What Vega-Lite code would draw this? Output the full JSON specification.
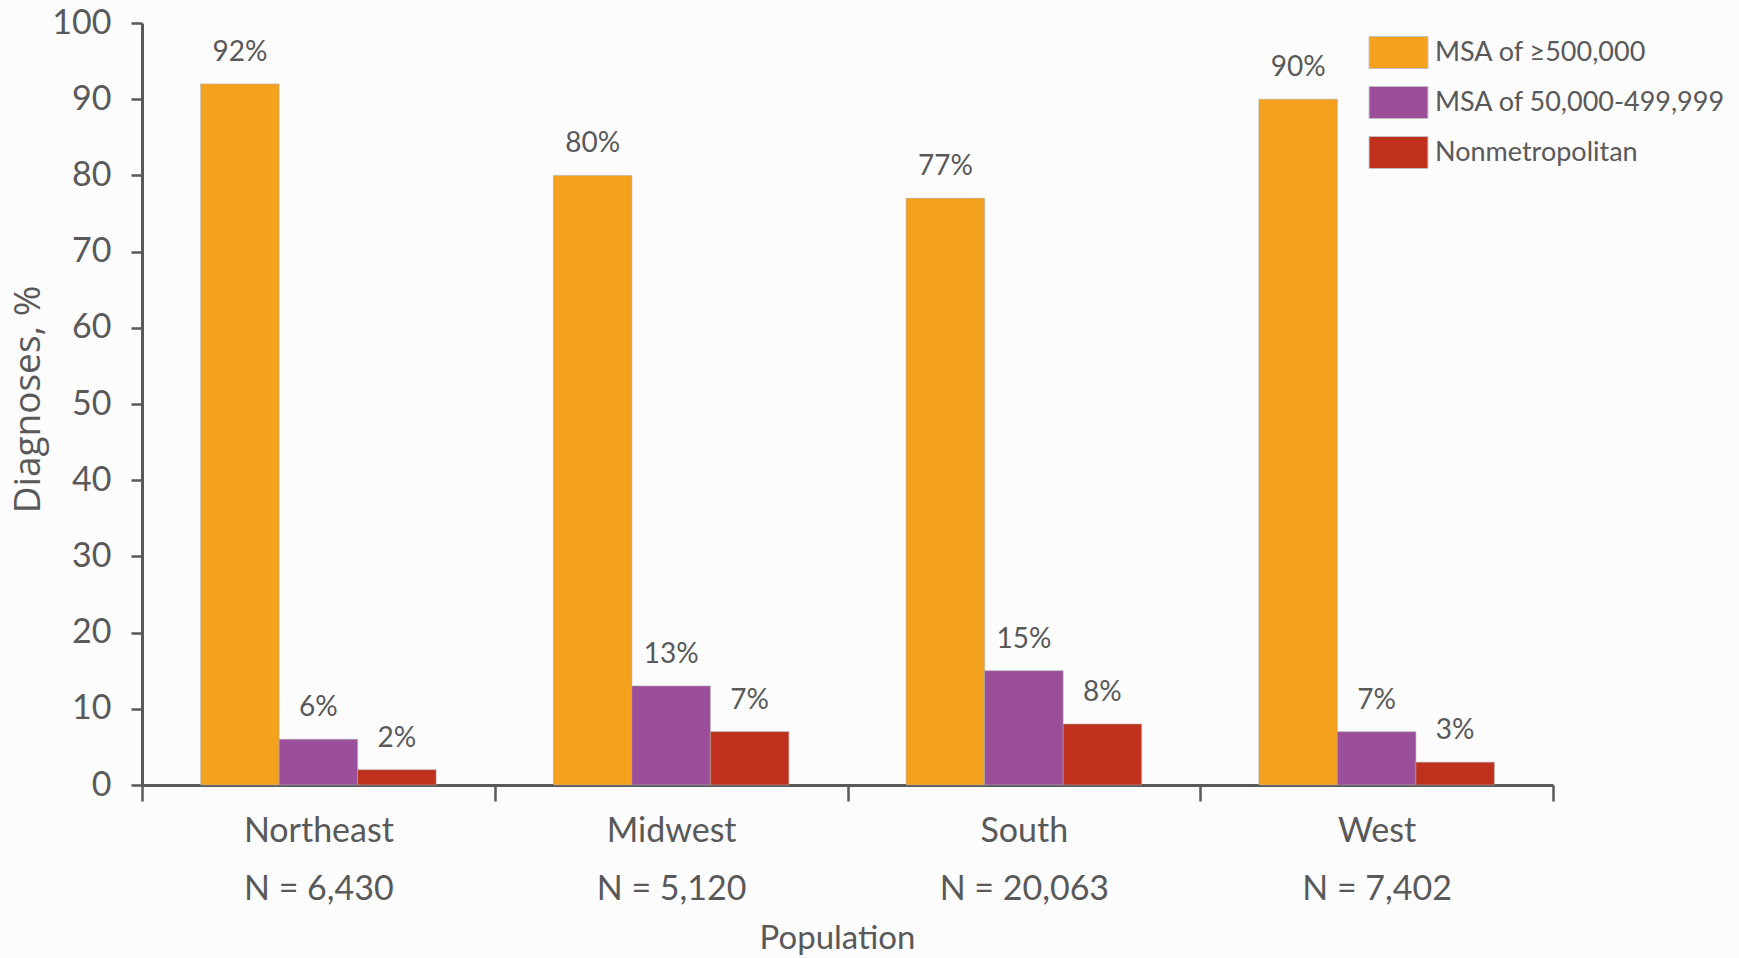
{
  "$schema": "https://vega.github.io/schema/vega-lite/v6.json",
  "width": 1411,
  "height": 762,
  "autosize": {"type": "none"},
  "padding": {"left": 142, "top": 23, "right": 186, "bottom": 173},
  "background": "#fcfcfc",
  "config": {"view": {"stroke": null}, "font": "Lato"},
  "data": {
    "values": [
      {"region": "Northeast|N = 6,430", "group": "MSA of ≥500,000", "value": 92, "label": "92%"},
      {"region": "Northeast|N = 6,430", "group": "MSA of 50,000-499,999", "value": 6, "label": "6%"},
      {"region": "Northeast|N = 6,430", "group": "Nonmetropolitan", "value": 2, "label": "2%"},
      {"region": "Midwest|N = 5,120", "group": "MSA of ≥500,000", "value": 80, "label": "80%"},
      {"region": "Midwest|N = 5,120", "group": "MSA of 50,000-499,999", "value": 13, "label": "13%"},
      {"region": "Midwest|N = 5,120", "group": "Nonmetropolitan", "value": 7, "label": "7%"},
      {"region": "South|N = 20,063", "group": "MSA of ≥500,000", "value": 77, "label": "77%"},
      {"region": "South|N = 20,063", "group": "MSA of 50,000-499,999", "value": 15, "label": "15%"},
      {"region": "South|N = 20,063", "group": "Nonmetropolitan", "value": 8, "label": "8%"},
      {"region": "West|N = 7,402", "group": "MSA of ≥500,000", "value": 90, "label": "90%"},
      {"region": "West|N = 7,402", "group": "MSA of 50,000-499,999", "value": 7, "label": "7%"},
      {"region": "West|N = 7,402", "group": "Nonmetropolitan", "value": 3, "label": "3%"}
    ]
  },
  "encoding": {
    "x": {
      "field": "region",
      "type": "nominal",
      "sort": null,
      "scale": {"paddingInner": 0, "paddingOuter": 0},
      "axis": {
        "title": "Population",
        "labelExpr": "split(datum.label, '|')",
        "labelAngle": 0,
        "labelFontSize": 34,
        "labelColor": "#595959",
        "labelPadding": 13,
        "labelLineHeight": 58,
        "labelBaseline": "top",
        "domainColor": "#595959",
        "domainWidth": 3,
        "tickColor": "#595959",
        "tickWidth": 2.5,
        "tickSize": 16,
        "tickBand": "extent",
        "titleFontSize": 33,
        "titleFontWeight": "normal",
        "titleColor": "#595959",
        "titleX": 695,
        "titleY": 163,
        "titleBaseline": "alphabetic"
      }
    },
    "xOffset": {
      "field": "group",
      "type": "nominal",
      "sort": ["MSA of ≥500,000", "MSA of 50,000-499,999", "Nonmetropolitan"],
      "scale": {"paddingInner": 0, "paddingOuter": 0.747}
    },
    "y": {
      "field": "value",
      "type": "quantitative",
      "scale": {"domain": [0, 100], "nice": false},
      "axis": {
        "title": "Diagnoses, %",
        "values": [0, 10, 20, 30, 40, 50, 60, 70, 80, 90, 100],
        "grid": false,
        "labelFontSize": 34,
        "labelColor": "#595959",
        "labelPadding": 20,
        "domainColor": "#595959",
        "domainWidth": 3,
        "tickColor": "#595959",
        "tickWidth": 2.5,
        "tickSize": 11,
        "titleFont": "Open Sans",
        "titleFontSize": 37,
        "titleFontWeight": "normal",
        "titleColor": "#595959",
        "titleAngle": 270,
        "titleX": -114,
        "titleY": 376,
        "titleBaseline": "middle",
        "titleAlign": "center"
      }
    }
  },
  "layer": [
    {
      "mark": {"type": "bar", "stroke": "#a8a8a8", "strokeWidth": 0.8, "strokeOpacity": 0.7},
      "encoding": {
        "color": {
          "field": "group",
          "type": "nominal",
          "scale": {
            "domain": ["MSA of ≥500,000", "MSA of 50,000-499,999", "Nonmetropolitan"],
            "range": ["#f4a11d", "#9b4f9b", "#bf311d"]
          },
          "legend": {
            "title": null,
            "orient": "none",
            "legendX": 1240,
            "legendY": 13,
            "padding": 0,
            "symbolType": "M-1.84,-1H1.84V1H-1.84Z",
            "symbolSize": 1024,
            "symbolStrokeColor": "#c0c0c0",
            "symbolStrokeWidth": 1,
            "symbolOpacity": 1,
            "labelOffset": 20,
            "labelFontSize": 27,
            "labelColor": "#595959",
            "labelLimit": 400,
            "rowPadding": 13
          }
        }
      }
    },
    {
      "mark": {"type": "text", "baseline": "alphabetic", "dy": -23, "fontSize": 28, "color": "#595959"},
      "encoding": {"text": {"field": "label", "type": "nominal"}}
    }
  ]
}
